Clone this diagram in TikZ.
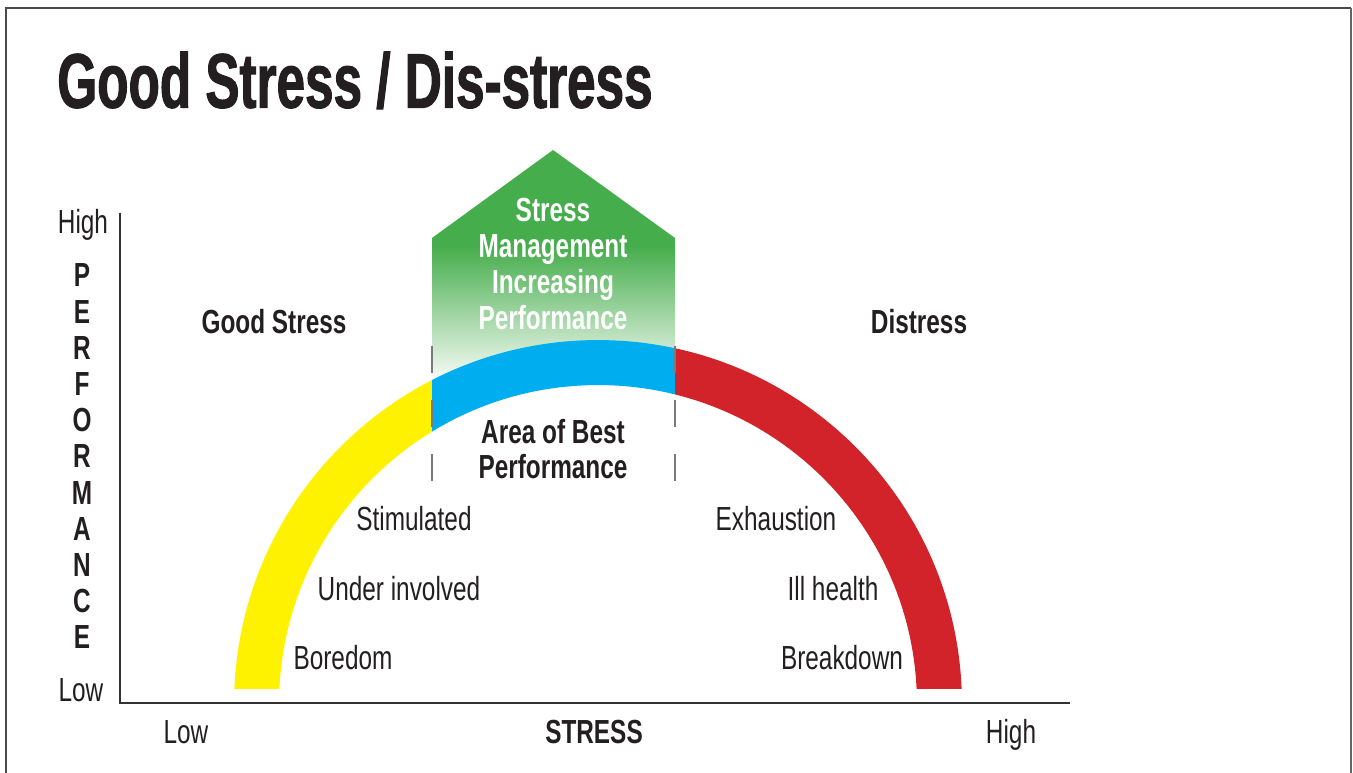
\documentclass[tikz,border=0pt]{standalone}
\usepackage{fontspec}
\setmainfont{Liberation Sans}[FakeStretch=0.73]
\newfontfamily\titlefont{Liberation Sans}[FakeStretch=0.663, BoldFeatures={FakeBold=1.3}]
\definecolor{ink}{HTML}{231F20}
\definecolor{framec}{HTML}{4A4A4A}
\definecolor{axisc}{HTML}{333333}
\definecolor{dashc}{HTML}{7A7A7A}
\definecolor{goodyellow}{HTML}{FFF200}
\definecolor{bestblue}{HTML}{00AEEF}
\definecolor{distred}{HTML}{D2232A}
\definecolor{housegreen}{HTML}{45AD4B}
\begin{document}
\begin{tikzpicture}[x=0.02cm,y=-0.02cm,
  lbl/.style={inner sep=0pt, text height=13.6pt, text depth=0pt,
    font=\fontsize{19}{22}\selectfont, text=ink},
  lblb/.style={lbl, font=\fontsize{19}{22}\selectfont\bfseries},
  lblw/.style={lblb, text=white},
  band/.style={even odd rule},
  divider/.style={draw=dashc, line width=0.75pt, dash pattern=on 0.54cm off 0.54cm},
  axisline/.style={draw=axisc, line width=0.7pt}]

\useasboundingbox (0,0) rectangle (1353,773);

% outer frame, open at the bottom
\draw[framec, line width=0.8pt] (6,773) -- (6,8) -- (1351,8);
\draw[framec!85, line width=1.6pt] (1351,8) -- (1351,773);

% title
\node[anchor=west, inner sep=0pt, text height=31.5pt, text depth=0pt,
  font=\titlefont\fontsize{44}{50}\selectfont\bfseries, text=ink] (title) at (57,80)
  {Good Stress / Dis-stress};

% stress management arrow, fading out towards the curve
\fill[housegreen] (432,246) -- (432,238) -- (553,150) -- (675,238) -- (675,246) -- cycle;
\shade[top color=housegreen, bottom color=white] (432,245.5) rectangle (675,386);

% the performance curve as three coloured bands
\coordinate (arcc) at (598,704);
\begin{scope}
  \clip (0,0) rectangle (432,688);
  \fill[goodyellow, band] (arcc) circle[radius=7.28cm] (arcc) circle[radius=6.38cm];
\end{scope}
\begin{scope}
  \clip (432,0) rectangle (675,688);
  \fill[bestblue, band] (arcc) circle[radius=7.28cm] (arcc) circle[radius=6.38cm];
\end{scope}
\begin{scope}
  \clip (675,0) rectangle (1353,688);
  \fill[distred, band] (arcc) circle[radius=7.28cm] (arcc) circle[radius=6.38cm];
\end{scope}

% dashed limits of the best-performance zone
\coordinate (dlt) at (432,346);
\coordinate (dlb) at (432,482);
\coordinate (drt) at (675,346);
\coordinate (drb) at (675,482);
\draw[divider] (dlt) -- (dlb);
\draw[divider] (drt) -- (drb);

% axes
\coordinate (ytop) at (120,213);
\coordinate (orig) at (120,703);
\coordinate (xend) at (1070,703);
\draw[axisline] (ytop) -- (orig) -- (xend);

% axis labels
\node[lbl] (yhigh) at (83,222) {High};
\node[lbl] (ylow) at (81,690) {Low};
\foreach \ch [count=\i from 0] in {P,E,R,F,O,R,M,A,N,C,E}
  \node[lblb] (perf\i) at (82,{275+36.2*\i}) {\ch};
\node[lbl] (xlow) at (186,732) {Low};
\node[lblb] (xname) at (594,732) {STRESS};
\node[lbl] (xhigh) at (1011,732) {High};

% zone headings
\node[lblb] (good) at (274,322) {Good Stress};
\node[lblb] (dist) at (919,322) {Distress};

\node[lblw] (sm1) at (553,210) {Stress};
\node[lblw] (sm2) at (553,246) {Management};
\node[lblw] (sm3) at (553,282) {Increasing};
\node[lblw] (sm4) at (553,318) {Performance};

\node[lblb] (best1) at (553,432) {Area of Best};
\node[lblb] (best2) at (553,467) {Performance};

% states along the curve
\node[lbl] (stim) at (414,519) {Stimulated};
\node[lbl] (under) at (399,589) {Under involved};
\node[lbl] (bore) at (343,658) {Boredom};
\node[lbl] (exh) at (776,519) {Exhaustion};
\node[lbl] (ill) at (833,589) {Ill health};
\node[lbl] (brk) at (842,658) {Breakdown};

\end{tikzpicture}
\end{document}
